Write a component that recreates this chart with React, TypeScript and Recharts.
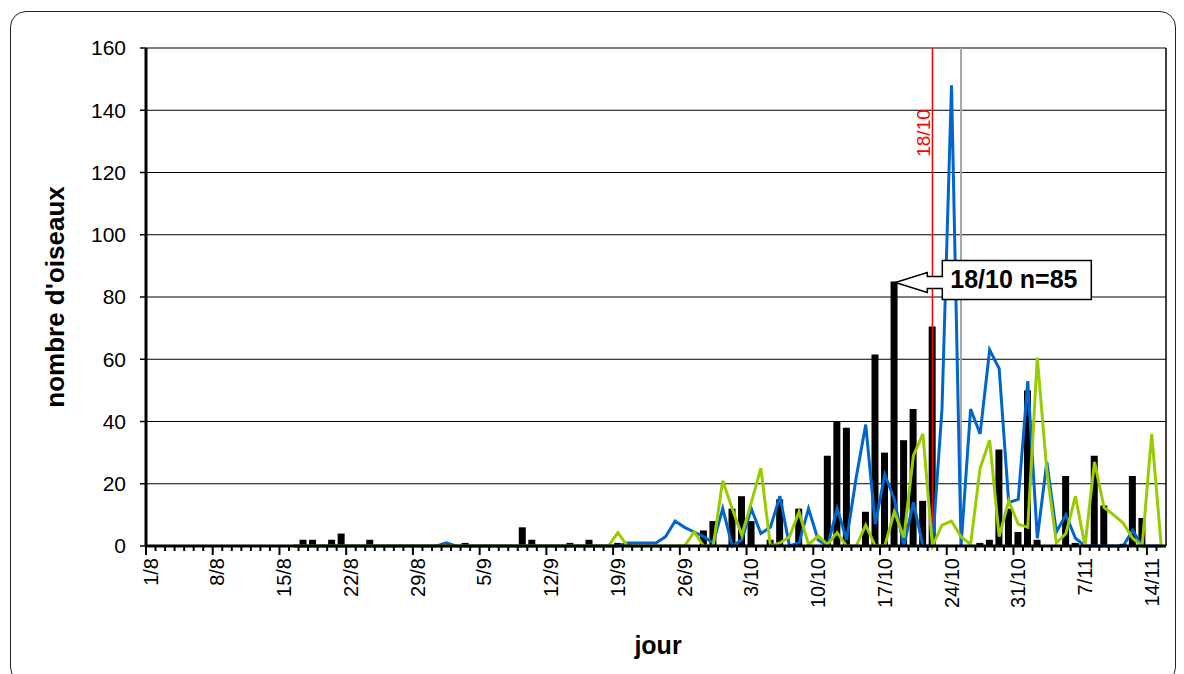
import React from 'react';
import { Bar, CartesianGrid, ComposedChart, Line, ReferenceDot, ReferenceLine, XAxis, YAxis } from 'recharts';

const FONT = '"Liberation Sans", Arial, sans-serif';

// months shown on the axis: [month, number of days]
const months = [[8, 31], [9, 30], [10, 31], [11, 15]];
const days: string[] = [];
months.forEach(([m, n]) => {
  for (let d = 1; d <= n; d++) days.push(`${d}/${m}`);
});

// one row per week, starting 1/8
const birds = [
  0, 0, 0, 0, 0, 0, 0,
  0, 0, 0, 0, 0, 0, 0,
  0, 0, 2, 2, 0, 2, 4,
  0, 0, 2, 0, 0, 0, 0,
  0, 0, 0, 0, 0, 1, 0,
  0, 0, 0, 0, 6, 2, 0,
  0, 0, 1, 0, 2, 0, 0,
  1, 1, 0, 0, 0, 0, 0,
  0, 0, 5, 8, 0, 12, 16,
  8, 0, 2, 15, 0, 12, 0,
  0, 29, 40, 38, 0, 11, 61.5,
  30, 85, 34, 44, 14.5, 70.5, 0,
  0, 0, 0, 1, 2, 31, 12,
  4.5, 50, 2, 0, 0, 22.5, 1,
  0, 29, 13, 0, 0.7, 22.5, 9,
  0, 0,
];

const blueYear = [
  null, null, null, null, null, null, null,
  null, null, null, null, null, null, null,
  null, 0, 0, 0, 0, 0, 0,
  0, 0, 0, 0, 0, 0, 0,
  0, 0, 0, 1, 0, 0, 0,
  0, 0, 0, 0, 0, 0, 0,
  0, 0, 0, 0, 0, 0, 0,
  0, 1, 1, 1, 1, 3, 8,
  6, 4.5, 3, 1, 12, 0, 2,
  12, 4, 6, 16, 0, 1, 12,
  2, 0, 12, 2, 22, 39, 7,
  23, 15, 0, 14, 0, 0, 44,
  148, 0, 44, 36, 63, 57, 14,
  15, 53, 2.5, 27, 4.5, 10, 2.5,
  0, 0, 0, 0, 0, 5, 0,
  0, 0,
];

const greenYear = [
  null, null, null, null, null, null, null,
  null, null, null, null, null, null, null,
  null, 0, 0, 0, 0, 0, 0,
  0, 0, 0, 0, 0, 0, 0,
  0, 0, 0, 0, 0, 0, 0,
  0, 0, 0, 0, 0, 0, 0,
  0, 0, 0, 0, 0, 0, 0,
  4.3, 0, 0, 0, 0, 0, 0,
  0, 4.5, 0, 0, 21, 12, 3.5,
  14, 25, 0, 1, 3, 11, 0.5,
  3.2, 0.5, 4.3, 0, 0, 6.7, 0,
  0, 11, 2.7, 29, 36, 0, 6.7,
  8, 3, 0.5, 25, 34, 3, 14.5,
  7, 6, 60.5, 24, 1, 4, 16,
  0, 27, 12.4, 10, 7.4, 2.5, 0,
  36, 0,
];

const yTicks = [0, 20, 40, 60, 80, 100, 120, 140, 160];
const redDay = '22/10';
const greyDay = '25/10';
const peakDay = '18/10';
const peakValue = 85;
const calloutText = '18/10 n=85';
const redText = '18/10';

const data = days.map((day, i) => ({ day, birds: birds[i], blue: blueYear[i], green: greenYear[i] }));

const PLOT_W = 1020;
const BAND = PLOT_W / days.length;

const XTick = (props: any) => {
  const { x, y, payload } = props;
  const i = payload.index;
  const major = i % 7 === 0;
  const lx = x - BAND / 2;
  return (
    <g>
      <line x1={lx} x2={lx} y1={y} y2={y + (major ? 9 : 5)} stroke="#000" strokeWidth={2} />
      {major && (
        <text
          x={x}
          y={y + 12}
          transform={`rotate(-90, ${x}, ${y + 12})`}
          textAnchor="end"
          dy="0.35em"
          fontSize={20}
          fontFamily={FONT}
          fill="#000"
        >
          {payload.value}
        </text>
      )}
    </g>
  );
};

const Callout = (props: any) => {
  const tx = props.cx + 1;
  const ty = props.cy + 1;
  const hx = tx + 32;
  const bx = tx + 47;
  const bx2 = tx + 196;
  const by1 = ty - 22;
  const by2 = ty + 17;
  const pts = [
    [bx, by1], [bx2, by1], [bx2, by2], [bx, by2], [bx, ty + 6], [hx, ty + 6],
    [hx, ty + 10], [tx, ty], [hx, ty - 10], [hx, ty - 6], [bx, ty - 6],
  ];
  return (
    <g>
      <polygon points={pts.map((p) => p.join(',')).join(' ')} fill="#fff" stroke="#000" strokeWidth={1.5} />
      <text x={bx + 8} y={ty + 6} fontSize={25} fontWeight="bold" fontFamily={FONT} fill="#000">
        {calloutText}
      </text>
    </g>
  );
};

const redLabel = (props: any) => {
  const { x, y } = props.viewBox;
  const lx = x - 2;
  const ly = y + 85;
  return (
    <text x={lx} y={ly} transform={`rotate(-90, ${lx}, ${ly})`} textAnchor="middle" fontSize={19} fontFamily={FONT} fill="#ff0000">
      {redText}
    </text>
  );
};

export default function App() {
  return (
    <div style={{ position: 'fixed', left: 0, top: 0, width: 1184, height: 674, overflow: 'hidden', background: '#fff' }}>
      <div
        style={{
          position: 'absolute', left: 10, top: 11, width: 1166, height: 672,
          border: '1.5px solid #222', borderRadius: 16, boxSizing: 'border-box',
        }}
      />
      <div style={{ position: 'absolute', left: 0, top: 0 }}>
        <ComposedChart width={1184} height={674} data={data} margin={{ top: 48, right: 17, bottom: 0, left: 0 }}>
          <CartesianGrid vertical={false} stroke="#000" strokeWidth={1} />
          <XAxis
            dataKey="day"
            interval={0}
            height={128}
            tickSize={0}
            tickMargin={0}
            tickLine={false}
            tick={<XTick />}
            axisLine={{ stroke: '#000', strokeWidth: 3 }}
          />
          <YAxis
            width={146}
            domain={[0, 160]}
            ticks={yTicks}
            tickSize={6}
            tickMargin={14}
            tick={{ fontSize: 21, fill: '#000', fontFamily: FONT }}
            tickLine={{ stroke: '#000', strokeWidth: 1.5 }}
            axisLine={{ stroke: '#000', strokeWidth: 3 }}
          />
          <YAxis yAxisId="r" orientation="right" width={1} domain={[0, 160]} ticks={yTicks} tick={false} tickLine={false} axisLine={{ stroke: '#000', strokeWidth: 1.5 }} />
          <Bar dataKey="birds" fill="#000" barSize={7} isAnimationActive={false} />
          <ReferenceLine x={greyDay} stroke="#a6a6a6" strokeWidth={2} />
          <ReferenceLine x={redDay} stroke="#ff0000" strokeWidth={1.5} label={redLabel} />
          <Line type="linear" dataKey="blue" stroke="#0066cc" strokeWidth={3} dot={false} isAnimationActive={false} />
          <Line type="linear" dataKey="green" stroke="#99cc00" strokeWidth={3} dot={false} isAnimationActive={false} />
          <ReferenceDot x={peakDay} y={peakValue} r={1} shape={(p: any) => <Callout {...p} />} ifOverflow="visible" />
        </ComposedChart>
      </div>
      <div
        style={{
          position: 'absolute', left: 55, top: 297, transform: 'translate(-50%, -50%) rotate(-90deg)',
          whiteSpace: 'nowrap', fontFamily: FONT, fontWeight: 'bold', fontSize: 26, color: '#000',
        }}
      >
        nombre d'oiseaux
      </div>
      <div
        style={{
          position: 'absolute', left: 658, top: 645, transform: 'translate(-50%, -50%)',
          whiteSpace: 'nowrap', fontFamily: FONT, fontWeight: 'bold', fontSize: 25, color: '#000',
        }}
      >
        jour
      </div>
    </div>
  );
}
